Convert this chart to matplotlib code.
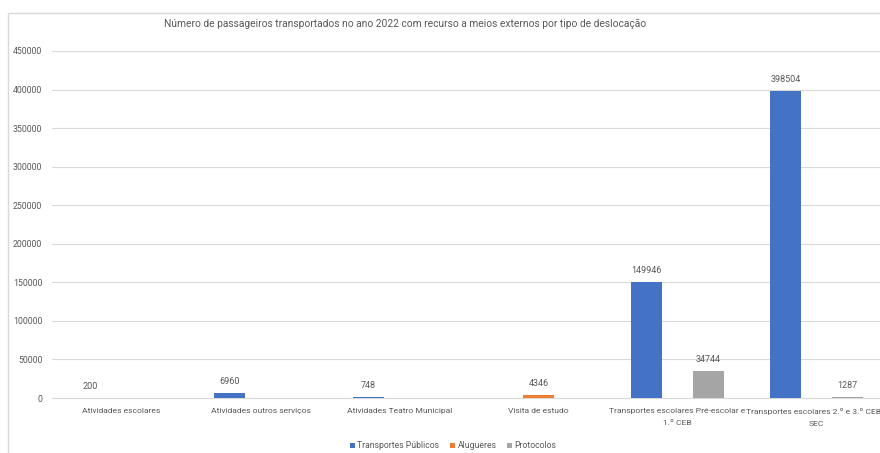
import matplotlib.pyplot as plt
import numpy as np
from matplotlib.patches import Rectangle

categorias = ["Atividades escolares",
              "Atividades outros serviços",
              "Atividades Teatro Municipal",
              "Visita de estudo",
              "Transportes escolares Pré-escolar e\n1.º CEB",
              "Transportes escolares 2.º e 3.º CEB e\nSEC"]
series = ["Transportes Públicos", "Alugueres", "Protocolos"]
transportes_publicos = [200, 6960, 748, None, 149946, 398504]
alugueres = [None, None, None, 4346, None, None]
protocolos = [None, None, None, None, 34744, 1287]
y_ticks = np.arange(0, 450001, 50000)

cores = ["#4472C4", "#ED7D31", "#A5A5A5"]
texto = "#595959"

plt.rcParams["font.family"] = ["Roboto", "DejaVu Sans"]

fig = plt.figure(figsize=(8.8, 4.53), dpi=100)
W, H = 880, 453
ax = fig.add_axes([52 / W, (H - 398) / H, 834 / W, (398 - 51) / H])

# moldura do gráfico
fig.patches.append(Rectangle((8 / W, -0.1), 2.0, (H - 13) / H + 0.1,
                             transform=fig.transFigure, fill=False,
                             edgecolor="#D9D9D9", lw=1.0))

x = np.arange(len(categorias))
largura = 0.223
dados = [transportes_publicos, alugueres, protocolos]
for i, (serie, vals) in enumerate(zip(series, dados)):
    pos = x + (i - 1) * largura
    for p, v in zip(pos, vals):
        if v is None:
            continue
        ax.bar(p, v, largura, color=cores[i], zorder=3)
        ax.text(p, v + 9000, str(v), ha="center", va="bottom",
                fontsize=6.5, color=texto)
    # entrada para a legenda
    ax.bar(0, 0, 0, color=cores[i], label=serie)

ax.set_xlim(-0.5, len(categorias) - 0.5)
ax.set_ylim(0, 450000)
ax.set_yticks(y_ticks)
ax.set_yticklabels([str(t) for t in y_ticks], fontsize=6.3, color=texto)
ax.set_xticks(x)
ax.set_xticklabels(categorias, fontsize=6.1, color=texto, linespacing=2.1)
ax.tick_params(axis="both", length=0, pad=7)
ax.tick_params(axis="x", pad=7.5)
ax.grid(axis="y", color="#D9D9D9", lw=0.8, zorder=0)
for s in ["top", "right", "left"]:
    ax.spines[s].set_visible(False)
ax.spines["bottom"].set_color("#D9D9D9")

fig.text(405 / W, 1 - 24 / H,
         "Número de passageiros transportados no ano 2022 com recurso a meios externos por tipo de deslocação",
         ha="center", va="center", fontsize=7.4, color=texto)

fig.legend(loc="center", bbox_to_anchor=(453 / W, 1 - 446 / H), ncol=3,
           frameon=False, fontsize=6.2, handlelength=0.6, handleheight=0.6,
           handletextpad=0.3, columnspacing=1.2, labelcolor=texto)

fig.savefig("out.png", dpi=100, facecolor="white")
